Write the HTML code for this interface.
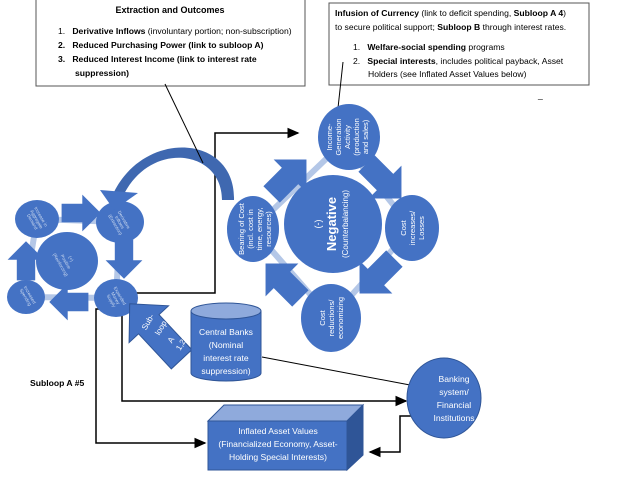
<!DOCTYPE html>
<html><head><style>
body{margin:0;width:624px;height:475px;background:#fff;overflow:hidden;font-family:"Liberation Sans",sans-serif}
</style></head><body>
<svg width="624" height="475" xmlns="http://www.w3.org/2000/svg" font-family="Liberation Sans, sans-serif">
<defs>
<marker id="ah" markerWidth="8" markerHeight="8" refX="7" refY="4" orient="auto"><path d="M0,0.5 L8,4 L0,7.5z" fill="#000"/></marker>
<g id="arr"><polygon points="-16,-8 2,-8 2,-16 18,0 2,16 2,8 -16,8" fill="#4472C4"/></g>
</defs>
<!-- boxes -->
<rect x="36" y="-1" width="269" height="87" fill="#fff" stroke="#555" stroke-width="1"/>
<text x="170" y="13" font-size="9" font-weight="bold" text-anchor="middle">Extraction and Outcomes</text>
<g font-size="8.6">
<text x="58" y="34">1.&#160;&#160;&#160;<tspan font-weight="bold">Derivative Inflows</tspan> (involuntary portion; non-subscription)</text>
<text x="58" y="48" font-weight="bold">2.&#160;&#160;&#160;Reduced Purchasing Power (link to subloop A)</text>
<text x="58" y="62" font-weight="bold">3.&#160;&#160;&#160;Reduced Interest Income (link to interest rate</text>
<text x="75" y="76" font-weight="bold">suppression)</text>
</g>
<rect x="329" y="3" width="260" height="82" fill="#fff" stroke="#555" stroke-width="1"/>
<g font-size="8.6">
<text x="335" y="16"><tspan font-weight="bold">Infusion of Currency</tspan> (link to deficit spending, <tspan font-weight="bold">Subloop A 4</tspan>)</text>
<text x="335" y="30">to secure political support; <tspan font-weight="bold">Subloop B</tspan> through interest rates.</text>
<text x="353" y="50">1.&#160;&#160;&#160;<tspan font-weight="bold">Welfare-social spending</tspan> programs</text>
<text x="353" y="64">2.&#160;&#160;&#160;<tspan font-weight="bold">Special interests</tspan>, includes political payback, Asset</text>
<text x="368" y="77">Holders (see Inflated Asset Values below)</text>
<text x="538" y="98">_</text>
</g>
<line x1="343" y1="62" x2="338" y2="108" stroke="#000"/>
<!-- connector lines -->
<polyline points="128,293 215,293 215,133 298,133" fill="none" stroke="#000" stroke-width="1.5" marker-end="url(#ah)"/>
<polyline points="104,309 96,309 96,443 205,443" fill="none" stroke="#000" stroke-width="1.5" marker-end="url(#ah)"/>
<polyline points="118,309 122,309 122,401 406,401" fill="none" stroke="#000" stroke-width="1.5" marker-end="url(#ah)"/>
<line x1="262" y1="357" x2="410" y2="385" stroke="#000"/>
<polyline points="420,416 400,416 400,452 370,452" fill="none" stroke="#000" stroke-width="1.5" marker-end="url(#ah)"/>
<!-- gray link connectors -->
<g stroke="#B4C7E7" stroke-width="6">
<line x1="349" y1="150" x2="412" y2="228"/><line x1="412" y1="228" x2="331" y2="318"/><line x1="331" y1="318" x2="253" y2="229"/><line x1="253" y1="229" x2="349" y2="137"/>
<line x1="37" y1="219" x2="120" y2="222"/><line x1="120" y1="222" x2="116" y2="298"/><line x1="116" y1="298" x2="24" y2="297"/><line x1="24" y1="297" x2="37" y2="219"/>
</g>
<!-- right loop -->
<g fill="#4472C4">
<ellipse cx="333" cy="224" rx="49" ry="49"/>
<ellipse cx="349" cy="137" rx="31" ry="33"/>
<ellipse cx="412" cy="228" rx="27" ry="33"/>
<ellipse cx="331" cy="318" rx="30" ry="34"/>
<ellipse cx="253" cy="229" rx="26" ry="33"/>
</g>
<use href="#arr" transform="translate(288,178) rotate(-45) scale(1.45)"/>
<use href="#arr" transform="translate(383,180) rotate(45) scale(1.45)"/>
<use href="#arr" transform="translate(378,275) rotate(135) scale(1.45)"/>
<use href="#arr" transform="translate(284,282) rotate(-135) scale(1.45)"/>
<g fill="#fff" text-anchor="middle" font-size="7.5">
<text transform="translate(333,224) rotate(-90)"><tspan x="0" y="-12" font-size="9">(-)</tspan><tspan x="0" y="3" font-size="13" font-weight="bold">Negative</tspan><tspan x="0" y="15" font-size="8">(Counterbalancing)</tspan></text>
<text transform="translate(349,137) rotate(-90)"><tspan x="0" y="-17">Income-</tspan><tspan x="0" y="-8">Generation</tspan><tspan x="0" y="1">Activity</tspan><tspan x="0" y="10">(production</tspan><tspan x="0" y="19">and sales)</tspan></text>
<text transform="translate(412,228) rotate(-90)"><tspan x="0" y="-6">Cost</tspan><tspan x="0" y="3">increases/</tspan><tspan x="0" y="12">Losses</tspan></text>
<text transform="translate(331,318) rotate(-90)"><tspan x="0" y="-6">Cost</tspan><tspan x="0" y="3">reductions/</tspan><tspan x="0" y="12">economizing</tspan></text>
<text transform="translate(253,229) rotate(-90)"><tspan x="0" y="-9">Bearing of Cost</tspan><tspan x="0" y="0">(incl. cost in</tspan><tspan x="0" y="9">time, energy,</tspan><tspan x="0" y="18">resources)</tspan></text>
</g>
<!-- left loop -->
<g fill="#4472C4">
<ellipse cx="67" cy="261" rx="31" ry="29"/>
<ellipse cx="37" cy="219" rx="22" ry="19"/>
<ellipse cx="120" cy="222" rx="24" ry="21"/>
<ellipse cx="116" cy="298" rx="22" ry="19"/>
<ellipse cx="26" cy="297" rx="19" ry="17"/>
</g>
<use href="#arr" transform="translate(80,213) scale(1.15)"/>
<use href="#arr" transform="translate(124,258) rotate(90) scale(1.15)"/>
<use href="#arr" transform="translate(70,302) rotate(180) scale(1.15)"/>
<use href="#arr" transform="translate(26,262) rotate(-90) scale(1.15)"/>
<g fill="#cfdcf0" text-anchor="middle" font-size="4.5">
<text transform="translate(67,261) rotate(60)"><tspan x="0" y="-3">(+)</tspan><tspan x="0" y="3">Positive</tspan><tspan x="0" y="9">(Reinforcing)</tspan></text>
<text transform="translate(37,219) rotate(60)"><tspan x="0" y="-3">Increase in</tspan><tspan x="0" y="2">Aggregate</tspan><tspan x="0" y="7">Demand</tspan></text>
<text transform="translate(120,222) rotate(60)"><tspan x="0" y="-3">Derivative</tspan><tspan x="0" y="2">Inflows</tspan><tspan x="0" y="7">(Extraction)</tspan></text>
<text transform="translate(116,298) rotate(60)"><tspan x="0" y="-3">Expanded</tspan><tspan x="0" y="2">Money</tspan><tspan x="0" y="7">Supply</tspan></text>
<text transform="translate(26,297) rotate(60)"><tspan x="0" y="-3">Increased</tspan><tspan x="0" y="2">Spending</tspan></text>
</g>
<!-- curved arrow (tapered), drawn on top -->
<path d="M222,200 C222,150 152,140 124,194 L114,192 C146,128 236,135 234,200 Z" fill="#3F68B0"/>
<polygon points="100,190 138,193 114,210" fill="#4472C4"/>
<line x1="165" y1="84" x2="203" y2="163" stroke="#000"/>
<!-- Subloop arrow (pointing up-left) -->
<g transform="translate(157,333) rotate(-133)">
<polygon points="-36,-14 12,-14 12,-27 40,0 12,27 12,14 -36,14" fill="#4472C4" stroke="#2F5597"/>
</g>
<g fill="#fff" font-size="8" text-anchor="middle" dominant-baseline="central">
<text transform="translate(148,322) rotate(-60)">Sub-</text>
<text transform="translate(161,328) rotate(-60)">loop</text>
<text transform="translate(171,340) rotate(-60)">A</text>
<text transform="translate(182,343) rotate(-60)">1,23</text>
</g>
<!-- cylinder -->
<path d="M191,311 L191,373 A35,8 0 0 0 261,373 L261,311" fill="#4472C4" stroke="#2F5597"/>
<ellipse cx="226" cy="311" rx="35" ry="8" fill="#8FAADC" stroke="#2F5597"/>
<g fill="#fff" font-size="8.6" text-anchor="middle">
<text x="226" y="335">Central Banks</text><text x="226" y="348">(Nominal</text><text x="226" y="361">interest rate</text><text x="226" y="374">suppression)</text>
</g>
<text x="30" y="386" font-size="8.6" font-weight="bold">Subloop A #5</text>
<!-- banking -->
<ellipse cx="444" cy="398" rx="37" ry="40" fill="#4472C4" stroke="#2F5597"/>
<g fill="#fff" font-size="8.6" text-anchor="middle">
<text x="454" y="382">Banking</text><text x="454" y="395">system/</text><text x="454" y="408">Financial</text><text x="454" y="421">Institutions</text>
</g>
<!-- 3D box -->
<polygon points="208,421 224,405 363,405 347,421" fill="#8FAADC" stroke="#2F5597"/>
<polygon points="347,421 363,405 363,455 347,470" fill="#2F5597" stroke="#2F5597"/>
<rect x="208" y="421" width="139" height="49" fill="#4472C4" stroke="#2F5597"/>
<g fill="#fff" font-size="8.6" text-anchor="middle">
<text x="278" y="434">Inflated Asset Values</text><text x="278" y="447">(Financialized Economy, Asset-</text><text x="278" y="460">Holding Special Interests)</text>
</g>
</svg>
</body></html>
